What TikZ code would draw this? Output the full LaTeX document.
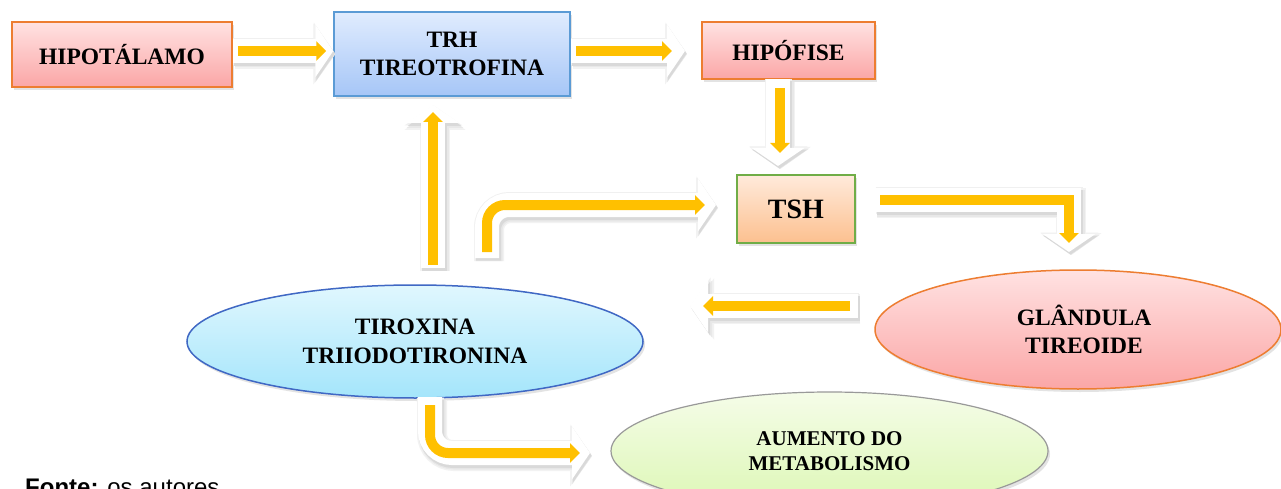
\documentclass[tikz,border=0pt]{standalone}
\usepackage{fontspec}
\setmainfont{Liberation Serif}
\newfontfamily\arialf{Liberation Sans}
\usetikzlibrary{arrows.meta,shapes.geometric,shadows,calc}
\definecolor{yel}{HTML}{FFC000}
\definecolor{orangeb}{HTML}{ED7D31}
\definecolor{blueb}{HTML}{5B9BD5}
\definecolor{greenb}{HTML}{70AD47}
\definecolor{navyb}{HTML}{4068C4}
\definecolor{pinkT}{HTML}{FFE2E2}
\definecolor{pinkB}{HTML}{FBA6A6}
\definecolor{blueT}{HTML}{E0ECFE}
\definecolor{blueB}{HTML}{A6C6F7}
\definecolor{tshT}{HTML}{FFEADB}
\definecolor{tshB}{HTML}{FCC08F}
\definecolor{cyanT}{HTML}{E0F7FE}
\definecolor{cyanB}{HTML}{A4E5FB}
\definecolor{greenT}{HTML}{F5FCE8}
\definecolor{greenB}{HTML}{DCF7B4}
\tikzset{
  lbl/.style={font=\fontsize{23.5}{28}\selectfont\bfseries, align=center, text=black},
  boxshadow/.style={drop shadow={opacity=0.22, shadow xshift=2pt, shadow yshift=-3pt}},
  pinkbox/.style={rectangle, draw=orangeb, line width=1.5pt, top color=pinkT, bottom color=pinkB, boxshadow, lbl},
  bluebox/.style={rectangle, draw=blueb, line width=1.5pt, top color=blueT, bottom color=blueB, boxshadow, lbl},
  tshbox/.style={rectangle, draw=greenb, line width=2pt, top color=tshT, bottom color=tshB, boxshadow, lbl},
  cyanell/.style={ellipse, inner sep=0pt, draw=navyb, line width=1.5pt, top color=cyanT, bottom color=cyanB, boxshadow, lbl},
  pinkell/.style={ellipse, inner sep=0pt, draw=orangeb, line width=1.5pt, top color=pinkT, bottom color=pinkB, boxshadow, lbl},
  greenell/.style={ellipse, inner sep=0pt, draw=black!40, line width=1.2pt, top color=greenT, bottom color=greenB, boxshadow, lbl},
  whitearr/.style={draw=white, line width=24pt, rounded corners=22pt, -{Triangle[length=18pt,width=52pt]}},
  shadowH/.style={draw=black!6, line width=27pt, rounded corners=22pt, -{Triangle[length=20pt,width=57pt]}, transform canvas={shift={(0.5pt,-0.5pt)}}},
  shadowA/.style={draw=black!5, line width=30pt, rounded corners=22pt, -{Triangle[length=22pt,width=60pt]}, transform canvas={shift={(2pt,-3pt)}}},
  shadowB/.style={draw=black!9, line width=27pt, rounded corners=22pt, -{Triangle[length=20pt,width=56pt]}, transform canvas={shift={(2pt,-3pt)}}},
  shadowC/.style={draw=black!15, line width=25pt, rounded corners=22pt, -{Triangle[length=18.5pt,width=53pt]}, transform canvas={shift={(1.5pt,-2.5pt)}}},
  yarr/.style={draw=yel, line width=10pt, rounded corners=18pt, -{Triangle[length=10pt,width=19pt]}}
}
\begin{document}
\begin{tikzpicture}[x=1pt,y=-1pt]
\useasboundingbox[fill=white] (0,0) rectangle (1281,489);
% nodes
\node[pinkbox, minimum width=220pt, minimum height=65pt] (hipo) at (122,54.5) {HIPOTÁLAMO};
\node[bluebox, minimum width=236pt, minimum height=84pt] (trh) at (452,54) {TRH\\TIREOTROFINA};
\node[pinkbox, minimum width=173pt, minimum height=57pt] (hipof) at (788.5,50.5) {HIPÓFISE};
\node[tshbox, minimum width=118pt, minimum height=68pt, font=\fontsize{28}{32}\selectfont\bfseries] (tsh) at (796,209) {TSH};
\node[cyanell, minimum width=456pt, minimum height=113pt] (tiro) at (415,341.5) {TIROXINA\\[1pt]TRIIODOTIRONINA};
\node[pinkell, minimum width=406pt, minimum height=119pt] (glan) at (1078,329.5) {\hspace*{12pt}GLÂNDULA\\\hspace*{12pt}TIREOIDE};
\node[greenell, minimum width=437pt, minimum height=118pt, font=\fontsize{21}{25}\selectfont\bfseries] (aum) at (829.5,451) {AUMENTO DO\\METABOLISMO};
\node[anchor=base west, inner sep=0pt, font=\arialf\fontsize{24}{28}\selectfont] (fonte) at (25,495) {\textbf{Fonte:} os autores};
% connector coordinates
\coordinate (a1s) at (hipo.east |- 0,51);
\coordinate (a1e) at (trh.west |- 0,51);
\coordinate (a2s) at (trh.east |- 0,51);
\coordinate (a2e) at (685,51);
\coordinate (a3s) at (778,79);
\coordinate (a3e) at (778,166);
\coordinate (a4s) at (875,200);
\coordinate (a4c) at (1069,200);
\coordinate (a4e) at (1069,252);
\coordinate (a5s) at (858,306);
\coordinate (a5e) at (690,306);
\coordinate (a6s) at (433,268);
\coordinate (a6e) at (433,105);
\coordinate (a7s) at (487,258);
\coordinate (a7c) at (487,205);
\coordinate (a7e) at (716,205);
\coordinate (a8s) at (430,397);
\coordinate (a8c) at (430,453);
\coordinate (a8e) at (590,453);
% shadows of white arrows (soft layers)
\foreach \s in {shadowH,shadowA,shadowB,shadowC}{
  \draw[\s] (a1s) -- (a1e);
  \draw[\s] (a2s) -- (a2e);
  \draw[\s] (a3s) -- (a3e);
  \draw[\s, rounded corners=0pt] (a4s) -- (a4c) -- (a4e);
  \draw[\s] (a5s) -- (a5e);
  \draw[\s] (a6s) -- (a6e);
  \draw[\s] (a7s) -- (a7c) -- (a7e);
  \draw[\s] (a8s) -- (a8c) -- (a8e);
}
% white arrows
\draw[whitearr] (a1s) -- (a1e);
\draw[whitearr] (a2s) -- (a2e);
\draw[whitearr] (a3s) -- (a3e);
\draw[whitearr, rounded corners=0pt] (a4s) -- (a4c) -- (a4e);
\draw[whitearr] (a5s) -- (a5e);
\draw[whitearr] (a6s) -- (a6e);
\draw[whitearr] (a7s) -- (a7c) -- (a7e);
\draw[whitearr] (a8s) -- (a8c) -- (a8e);
% yellow arrows
\draw[yarr] ($(a1s)+(5,0)$) -- ($(a1e)+(-7,0)$);
\draw[yarr] ($(a2s)+(5,0)$) -- ($(a2e)+(-13,0)$);
\draw[yarr] ($(a3s)+(2,9)$) -- ($(a3e)+(2,-13)$);
\draw[yarr, rounded corners=0pt] ($(a4s)+(5,0)$) -- (a4c) -- ($(a4e)+(0,-9)$);
\draw[yarr] ($(a5s)+(-8,0)$) -- ($(a5e)+(13,0)$);
\draw[yarr] ($(a6s)+(0,-3)$) -- ($(a6e)+(0,7)$);
\draw[yarr] ($(a7s)+(0,-6)$) -- (a7c) -- ($(a7e)+(-11,0)$);
\draw[yarr] ($(a8s)+(0,8)$) -- (a8c) -- ($(a8e)+(-10,0)$);
\end{tikzpicture}
\end{document}
